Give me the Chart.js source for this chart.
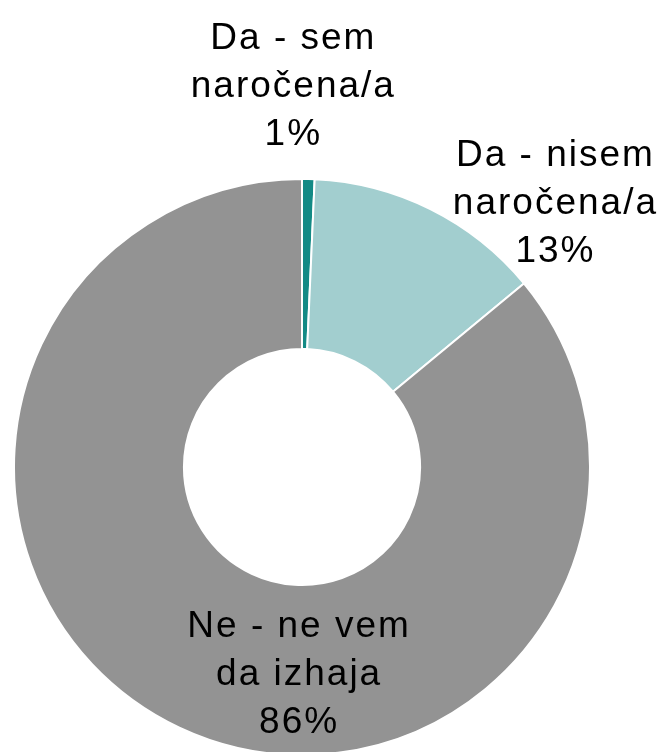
<!DOCTYPE html>
<html>
<head>
<meta charset="utf-8">
<script src="https://cdn.jsdelivr.net/npm/chart.js@4"></script>
<style>
  html, body { margin: 0; padding: 0; background: #fff; overflow: hidden; }
  #wrap { position: relative; width: 670px; height: 760px; }
</style>
</head>
<body>
<div id="wrap"><canvas id="grafico"></canvas></div>
<script>
const kategorije = ['Da - sem naročena/a', 'Da - nisem naročena/a', 'Ne - ne vem da izhaja'];
const vrstice = [
    ['Da - sem', 'naročena/a'],
    ['Da - nisem', 'naročena/a'],
    ['Ne - ne vem', 'da izhaja']
];
const deleži = [0.7, 13.3, 86.0];
const barve = ['#138a85', '#a2cecf', '#939393'];

// kje stoji oznaka glede na središče, v delih zunanjega polmera
const odmikiOznak = [[-0.03, -1.285], [0.88, -0.88], [-0.01, 0.757]];

const oznake = {
    id: 'oznake',
    afterDatasetsDraw(chart) {
        const ctx = chart.ctx;
        const lok = chart.getDatasetMeta(0).data[0];
        const cx = lok.x, cy = lok.y, r = lok.outerRadius;
        ctx.save();
        ctx.font = '37px "Liberation Sans", Arial, sans-serif';
        ctx.letterSpacing = '2px';
        ctx.fillStyle = '#000';
        ctx.textAlign = 'center';
        ctx.textBaseline = 'alphabetic';
        deleži.forEach((v, i) => {
            const x = cx + odmikiOznak[i][0] * r;
            const y = cy + odmikiOznak[i][1] * r;
            const lines = vrstice[i].concat([Math.round(v) + '%']);
            lines.forEach((t, j) => {
                ctx.fillText(t, x, y + (j - 1) * 48);
            });
        });
        ctx.restore();
    }
};

new Chart(document.getElementById('grafico'), {
    type: 'doughnut',
    data: {
        labels: kategorije,
        datasets: [{
            data: deleži,
            backgroundColor: barve,
            borderColor: '#fff',
            borderWidth: 2
        }]
    },
    options: {
        responsive: true,
        maintainAspectRatio: false,
        animation: false,
        cutout: '41%',
        layout: { padding: { left: 13, right: 79, top: 178, bottom: 4 } },
        plugins: { legend: { display: false }, tooltip: { enabled: false } }
    },
    plugins: [oznake]
});
</script>
</body>
</html>
